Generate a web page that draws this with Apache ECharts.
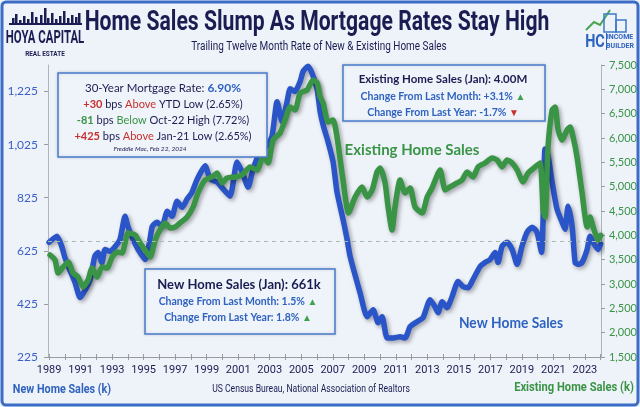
<!DOCTYPE html>
<html><head><meta charset="utf-8">
<script src="https://cdn.jsdelivr.net/npm/echarts@6/dist/echarts.min.js"></script>
<style>html,body{margin:0;padding:0;background:#fff}#c{width:640px;height:407px}</style>
</head><body><div id="c"></div><script>
// ---- data ----
const newYears = [1989.0,1989.5,1989.8,1990.0,1990.3,1990.65,1990.97,1991.3,1991.6,1991.9,1992.1,1992.35,1992.55,1992.87,1993.2,1993.5,1993.82,1994.0,1994.33,1994.65,1995.1,1995.4,1995.55,1995.85,1996.17,1996.5,1996.8,1997.12,1997.44,1997.76,1998.07,1998.4,1998.9,1999.22,1999.66,2000.04,2000.48,2000.93,2001.25,2001.63,2001.94,2002.39,2002.83,2003.15,2003.47,2003.78,2004.1,2004.3,2004.6,2004.93,2005.12,2005.43,2005.69,2006.0,2006.2,2006.4,2006.7,2007.02,2007.27,2007.65,2007.91,2008.1,2008.73,2009.18,2009.56,2009.88,2010.13,2010.45,2010.83,2011.27,2011.59,2011.91,2012.35,2012.73,2013.18,2013.49,2013.68,2013.94,2014.25,2014.57,2014.95,2015.27,2015.59,2015.9,2016.35,2016.66,2016.98,2017.3,2017.49,2017.74,2018.06,2018.38,2018.7,2019.01,2019.33,2019.65,2019.96,2020.25,2020.35,2020.47,2020.66,2020.92,2021.23,2021.55,2021.74,2021.93,2022.19,2022.38,2022.57,2022.82,2023.14,2023.33,2023.52,2023.84,2024.0];
const newSales = [657,680,642,600,555,505,449,479,517,604,619,581,630,623,642,668,755,717,668,630,592,668,717,733,717,774,755,812,789,820,846,895,945,895,884,858,831,960,922,865,933,998,1020,1058,1187,1111,1187,1236,1225,1263,1301,1320,1293,1236,1149,1096,1036,960,846,744,668,604,467,377,403,354,377,297,297,301,297,339,358,373,441,414,392,433,411,452,509,490,486,517,566,581,592,619,581,642,657,630,574,642,695,714,695,619,755,1009,983,884,782,733,706,793,717,581,574,581,630,680,657,630,650];
const existYears = [1989.06,1989.38,1989.57,1989.89,1990.21,1990.52,1990.84,1991.16,1991.47,1991.73,1992.05,1992.36,1992.68,1993.0,1993.31,1993.63,1994.01,1994.46,1994.77,1995.09,1995.41,1995.73,1996.04,1996.36,1996.68,1997.0,1997.31,1997.76,1998.14,1998.45,1998.9,1999.34,1999.66,1999.98,2000.29,2000.8,2001.25,2001.75,2002.2,2002.58,2002.9,2003.21,2003.66,2003.97,2004.29,2004.61,2004.93,2005.37,2005.75,2006.01,2006.2,2006.39,2006.7,2007.02,2007.27,2007.65,2008.0,2008.42,2008.86,2009.18,2009.5,2009.81,2010.0,2010.32,2010.51,2010.76,2010.95,2011.27,2011.59,2011.91,2012.22,2012.67,2012.99,2013.3,2013.81,2014.13,2014.44,2014.89,2015.21,2015.52,2015.9,2016.22,2016.66,2017.11,2017.43,2017.74,2018.06,2018.38,2018.7,2019.08,2019.39,2019.84,2020.16,2020.35,2020.47,2020.66,2020.92,2021.11,2021.3,2021.55,2021.87,2022.06,2022.25,2022.5,2022.82,2023.14,2023.33,2023.52,2023.84,2024.0];
const existSales = [3596,3493,3226,3350,3452,3226,3144,2939,3082,3329,3144,3350,3329,3555,3658,3637,4048,4007,3843,3699,3555,3904,4110,4254,4151,4172,4254,4377,4583,4870,5137,5199,5281,5076,5178,5199,5240,5405,5343,5610,5487,5959,6103,6370,6638,6576,6925,6987,7192,7131,6843,6720,6329,6370,6021,5137,4459,4788,4994,4788,4932,5302,5384,5076,4583,4110,4583,5137,4870,4973,4583,4459,4788,4973,5343,4932,4994,5076,5137,5302,5199,5405,5487,5589,5548,5405,5548,5487,5343,5096,5281,5405,5487,4521,4377,5816,6576,6638,6165,5959,6165,6227,6021,5610,4870,4172,4377,4172,3904,4000];
const xLabelYears = [1989,1991,1993,1995,1997,1999,2001,2003,2005,2007,2009,2011,2013,2015,2017,2019,2021,2023];
const xTickYears = [1989,1990,1991,1992,1993,1994,1995,1996,1997,1998,1999,2000,2001,2002,2003,2004,2005,2006,2007,2008,2009,2010,2011,2012,2013,2014,2015,2016,2017,2018,2019,2020,2021,2022,2023,2024];
const leftTicks = [225,425,625,825,1025,1225];
const rightTicks = [1500,2000,2500,3000,3500,4000,4500,5000,5500,6000,6500,7000,7500];
const currentNew = 661;

const NAVY = '#1b1d52', BLUE = '#2a55c8', GREEN = '#3a9446', RED = '#c8302c', TBLUE = '#2f63c0';
const FONT = 'Lato, "Open Sans", sans-serif';
const NARROW = 'Roboto, sans-serif';

const chart = echarts.init(document.getElementById('c'));
const fmt = v => Number(v).toLocaleString('en-US');
const pairs = (xs, ys) => xs.map((x, i) => [x, ys[i]]);

function txt(x, y, text, style, sx) {
  return { type: 'text', x: x, y: y, z: 20, scaleX: sx || 1, style: Object.assign({ text: text, font: '11px ' + FONT, fill: NAVY, textAlign: 'center', textVerticalAlign: 'middle' }, style) };
}
const richBase = {
  d: { fontFamily: FONT, fontSize: 11, fill: NAVY },
  db: { fontFamily: FONT, fontSize: 11.5, fill: NAVY },
  bv: { fontFamily: FONT, fontSize: 12, fill: TBLUE, fontWeight: 'bold' },
  r: { fontFamily: FONT, fontSize: 11, fill: RED, fontWeight: 'bold' },
  ra: { fontFamily: FONT, fontSize: 11, fill: RED },
  g: { fontFamily: FONT, fontSize: 11, fill: GREEN, fontWeight: 'bold' },
  ga: { fontFamily: FONT, fontSize: 11, fill: GREEN },
  cb: { fontFamily: FONT, fontSize: 10.5, fill: TBLUE, fontWeight: 'bold' },
  up: { fontFamily: FONT, fontSize: 10, fill: '#3fa34d' },
  dn: { fontFamily: FONT, fontSize: 10, fill: RED }
};
function rtxt(x, y, text) {
  return { type: 'text', x: x, y: y, z: 20, style: { text: text, rich: richBase, textAlign: 'center', textVerticalAlign: 'middle' } };
}

const skyline = [];
const bld = [[12,6],[15,10],[19,4],[23,8],[27,5],[31,12],[35,7],[40,9],[44,16],[47,6],[51,11],[55,5],[59,8],[63,13],[67,6],[71,9],[75,7],[78,11]];
bld.forEach(b => skyline.push({ type: 'rect', z: 20, shape: { x: b[0], y: 24 - b[1], width: 2.5, height: b[1] }, style: { fill: NAVY } }));
skyline.push({ type: 'rect', z: 20, shape: { x: 9, y: 23, width: 73, height: 2 }, style: { fill: NAVY } });

chart.setOption({
  backgroundColor: '#eef2f9',
  animation: false,
  grid: { left: 48, right: 39, top: 65, bottom: 50 },
  xAxis: [{
    type: 'value', min: 1988.93, max: 2024.02,
    axisLine: { show: true, lineStyle: { color: '#9a9aa0', width: 1 } },
    axisTick: { show: true, customValues: xTickYears, length: 3, lineStyle: { color: '#9a9aa0' } },
    axisLabel: { customValues: xLabelYears, formatter: v => String(v), color: NAVY, fontFamily: NARROW, fontSize: 11, margin: 8 },
    splitLine: { show: false }
  }, {
    type: 'value', min: 1988.93, max: 2024.02, position: 'bottom',
    axisLine: { show: false },
    axisTick: { show: true, inside: true, customValues: xTickYears, length: 3, lineStyle: { color: '#9a9aa0' } },
    axisLabel: { show: false }, splitLine: { show: false }
  }],
  yAxis: [{
    type: 'value', min: 225, max: 1325, position: 'left',
    axisLine: { show: true, lineStyle: { color: '#b0b4bc', width: 1 } },
    axisTick: { show: true, customValues: leftTicks, length: 4, lineStyle: { color: '#9a9aa0' } },
    axisLabel: { customValues: leftTicks, formatter: fmt, color: '#3a5fc6', fontFamily: FONT, fontSize: 12, margin: 10 },
    splitLine: { show: false }
  }, {
    type: 'value', min: 1500, max: 7500, position: 'right',
    axisLine: { show: true, lineStyle: { color: '#b0b4bc', width: 1 } },
    axisTick: { show: true, customValues: rightTicks, length: 4, lineStyle: { color: '#9a9aa0' } },
    axisLabel: { customValues: rightTicks, formatter: fmt, color: GREEN, fontFamily: FONT, fontSize: 11, margin: 8 },
    splitLine: { show: false }
  }],
  series: [{
    name: 'New Home Sales', type: 'line', xAxisIndex: 0, yAxisIndex: 0,
    data: pairs(newYears, newSales), showSymbol: false, smooth: 0.2, z: 3,
    lineStyle: { color: BLUE, width: 5.5, shadowColor: 'rgba(0,0,0,0.35)', shadowBlur: 4, shadowOffsetX: 2, shadowOffsetY: 2, cap: 'round', join: 'round' },
    markLine: { silent: true, symbol: 'none', label: { show: false },
      lineStyle: { type: [4, 4], color: '#a7bbb0', width: 1 }, data: [{ yAxis: currentNew }] }
  }, {
    name: 'Existing Home Sales', type: 'line', xAxisIndex: 0, yAxisIndex: 1,
    data: pairs(existYears, existSales), showSymbol: false, smooth: 0.2, z: 4,
    lineStyle: { color: GREEN, width: 5.5, shadowColor: 'rgba(0,0,0,0.35)', shadowBlur: 4, shadowOffsetX: 2, shadowOffsetY: 2, cap: 'round', join: 'round' }
  }],
  graphic: [
    { type: 'rect', z: 50, shape: { x: 2, y: 2, width: 636, height: 403, r: 4 }, style: { fill: 'none', stroke: '#3b6cc6', lineWidth: 3 } },
    // title
    txt(317, 23, 'Home Sales Slump As Mortgage Rates Stay High', { font: 'bold 28px ' + NARROW, fill: NAVY }, 0.755),
    txt(319, 47, 'Trailing Twelve Month Rate of New & Existing Home Sales', { font: '12px ' + NARROW, fill: NAVY }, 0.83),
    // left logo
    ...skyline,
    txt(45, 38, 'HOYA CAPITAL', { font: 'bold 19px ' + NARROW, fill: NAVY }, 0.6),
    txt(45, 54, 'REAL ESTATE', { font: 'bold 8px ' + NARROW, fill: NAVY }, 0.8),
    // right logo
    { type: 'polyline', z: 20, shape: { points: [[586, 30], [594, 22], [600, 25], [610, 10]] }, style: { stroke: '#4aa54f', lineWidth: 2, fill: 'none' } },
    { type: 'rect', z: 20, shape: { x: 604, y: 14, width: 12, height: 18 }, style: { fill: 'none', stroke: '#3d79c8', lineWidth: 1.5 } },
    { type: 'rect', z: 20, shape: { x: 616, y: 20, width: 10, height: 12 }, style: { fill: 'none', stroke: '#3d79c8', lineWidth: 1.5 } },
    txt(595, 42, 'HC', { font: 'bold 18px ' + NARROW, fill: '#2f63c0' }, 0.8),
    { type: 'rect', z: 20, shape: { x: 606, y: 33, width: 1, height: 17 }, style: { fill: '#2f63c0' } },
    txt(620, 37, 'INCOME', { font: 'bold 7px ' + NARROW, fill: '#2f63c0' }),
    txt(620, 46, 'BUILDER', { font: 'bold 7px ' + NARROW, fill: '#2f63c0' }),
    // box 1: mortgage
    { type: 'rect', z: 15, shape: { x: 58, y: 73, width: 209, height: 84 }, style: { fill: '#eff3fa', stroke: '#4a7ccc', lineWidth: 1.5, shadowColor: 'rgba(0,0,0,0.15)', shadowBlur: 3 } },
    rtxt(163, 88, '{db|30-Year Mortgage Rate: }{bv|6.90%}'),
    rtxt(163, 104, '{r|+30}{d| bps }{ra|Above}{d| YTD Low (2.65%)}'),
    rtxt(163, 120, '{g|-81}{d| bps }{ga|Below}{d| Oct-22 High (7.72%)}'),
    rtxt(163, 136, '{r|+425}{d| bps }{ra|Above}{d| Jan-21 Low (2.65%)}'),
    txt(150, 149, 'Freddie Mac, Feb 22, 2024', { font: 'italic 6.5px ' + FONT, fill: NAVY }),
    // box 2: existing
    { type: 'rect', z: 15, shape: { x: 343, y: 65, width: 202, height: 56 }, style: { fill: '#eff3fa', stroke: '#4a7ccc', lineWidth: 1.5, shadowColor: 'rgba(0,0,0,0.15)', shadowBlur: 3 } },
    txt(443, 79, 'Existing Home Sales (Jan): 4.00M', { font: 'bold 11.5px ' + FONT, fill: NAVY }),
    rtxt(443, 97, '{cb|Change From Last Month: +3.1%}{up| ▲}'),
    rtxt(443, 113, '{cb|Change From Last Year: -1.7%}{dn| ▼}'),
    // box 3: new
    { type: 'rect', z: 15, shape: { x: 145, y: 269, width: 190, height: 65 }, style: { fill: '#eff3fa', stroke: '#4a7ccc', lineWidth: 1.5, shadowColor: 'rgba(0,0,0,0.15)', shadowBlur: 3 } },
    txt(239, 285, 'New Home Sales (Jan): 661k', { font: 'bold 13px ' + FONT, fill: NAVY }),
    rtxt(238, 302, '{cb|Change From Last Month: 1.5%}{up| ▲}'),
    rtxt(238, 318, '{cb|Change From Last Year: 1.8%}{up| ▲}'),
    // series labels
    txt(412, 150, 'Existing Home Sales', { font: 'bold 15px ' + FONT, fill: GREEN }),
    txt(511, 323, 'New Home Sales', { font: 'bold 15px ' + FONT, fill: TBLUE }, 0.92),
    // bottom labels
    txt(62, 390, 'New Home Sales (k)', { font: 'bold 13px ' + NARROW, fill: TBLUE }, 0.83),
    txt(311, 389, 'US Census Bureau, National Association of Realtors', { font: '10.5px ' + NARROW, fill: NAVY }, 0.82),
    txt(574, 388, 'Existing Home Sales (k)', { font: 'bold 13px ' + NARROW, fill: GREEN }, 0.86)
  ]
});
</script></body></html>
